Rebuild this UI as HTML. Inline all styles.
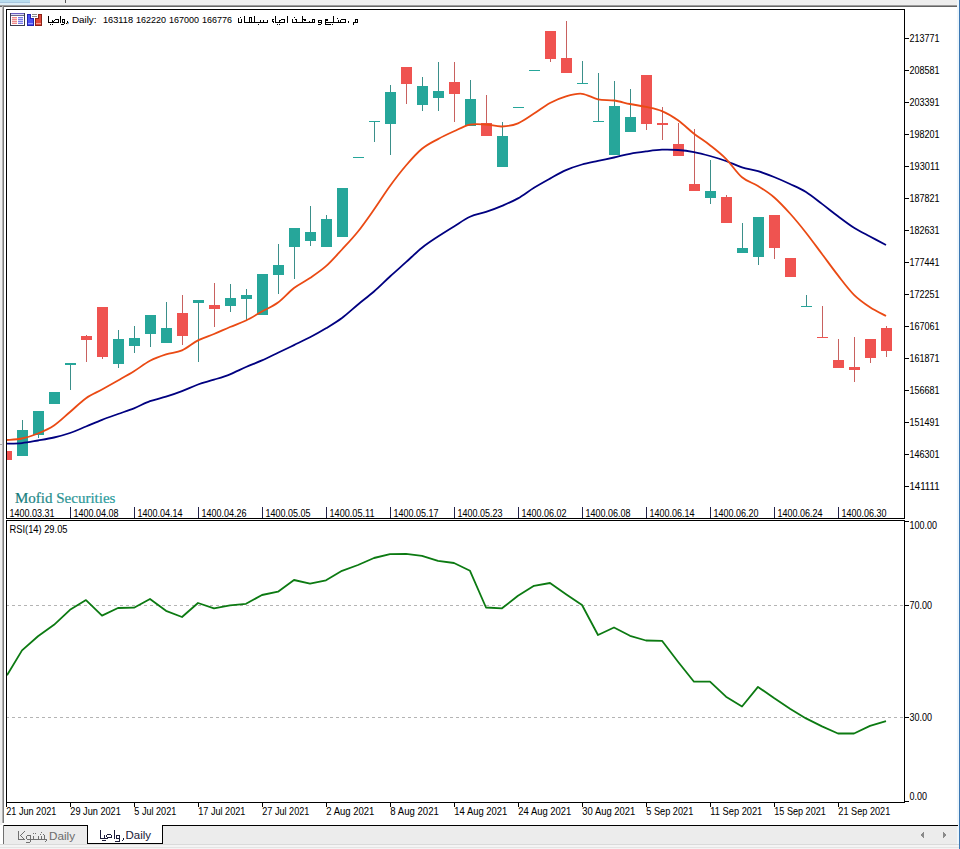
<!DOCTYPE html>
<html><head><meta charset="utf-8"><style>
html,body{margin:0;padding:0;}
body{width:960px;height:849px;overflow:hidden;position:relative;background:#fff;font-family:"Liberation Sans",sans-serif;}
.abs{position:absolute;}
</style></head><body>
<div class="abs" style="left:0;top:0;width:960px;height:5px;background:#eeeeee"></div>
<div class="abs" style="left:0;top:0;width:30px;height:2px;background:#b8dcee"></div>
<div class="abs" style="left:0;top:2px;width:30px;height:1px;background:#a6c6de"></div>
<div class="abs" style="left:0;top:3px;width:30px;height:2px;background:#dcedf6"></div>
<div class="abs" style="left:65px;top:0;width:1px;height:3px;background:#555"></div>
<div class="abs" style="left:0;top:5px;width:958px;height:1px;background:#9c9c9c"></div>
<div class="abs" style="left:0;top:6px;width:958px;height:1px;background:#646464"></div>
<div class="abs" style="left:0;top:7px;width:2px;height:818px;background:#f0f0f0"></div>
<div class="abs" style="left:2px;top:6px;width:1px;height:817px;background:#b4b4b4"></div>
<div class="abs" style="left:3px;top:6px;width:1px;height:817px;background:#7c7c7c"></div>
<div class="abs" style="left:957px;top:0;width:2px;height:849px;background:#eef6fb"></div>
<div class="abs" style="left:0;top:444px;width:2px;height:1px;background:#a8a8a8"></div>
<div class="abs" style="left:959px;top:0;width:1px;height:849px;background:#3c78b4"></div>
<svg class="abs" style="left:0;top:0" width="960" height="849" viewBox="0 0 960 849">
<rect x="6" y="9" width="899" height="794" fill="#fff"/>
<defs><clipPath id="cm"><rect x="7" y="10" width="897" height="508"/></clipPath><clipPath id="cr"><rect x="7" y="521" width="897" height="281"/></clipPath></defs>
<g clip-path="url(#cm)" shape-rendering="crispEdges">
<rect x="1" y="451" width="11" height="9" fill="#ef5350"/>
<rect x="22" y="420" width="1" height="10" fill="#3b8f8a"/><rect x="17" y="430" width="11" height="26" fill="#26a69a"/>
<rect x="38" y="435" width="1" height="3" fill="#3b8f8a"/><rect x="33" y="411" width="11" height="24" fill="#26a69a"/>
<rect x="49" y="392" width="11" height="12" fill="#26a69a"/>
<rect x="70" y="365" width="1" height="25" fill="#3b8f8a"/><rect x="65" y="363" width="11" height="2" fill="#26a69a"/>
<rect x="86" y="335" width="1" height="1" fill="#c8615f"/><rect x="86" y="340" width="1" height="22" fill="#c8615f"/><rect x="81" y="336" width="11" height="4" fill="#ef5350"/>
<rect x="102" y="357" width="1" height="2" fill="#c8615f"/><rect x="97" y="307" width="11" height="50" fill="#ef5350"/>
<rect x="118" y="330" width="1" height="9" fill="#3b8f8a"/><rect x="118" y="364" width="1" height="4" fill="#3b8f8a"/><rect x="113" y="339" width="11" height="25" fill="#26a69a"/>
<rect x="134" y="326" width="1" height="12" fill="#3b8f8a"/><rect x="134" y="346" width="1" height="7" fill="#3b8f8a"/><rect x="129" y="338" width="11" height="8" fill="#26a69a"/>
<rect x="150" y="334" width="1" height="13" fill="#3b8f8a"/><rect x="145" y="315" width="11" height="19" fill="#26a69a"/>
<rect x="166" y="302" width="1" height="26" fill="#3b8f8a"/><rect x="161" y="328" width="11" height="15" fill="#26a69a"/>
<rect x="182" y="295" width="1" height="18" fill="#c8615f"/><rect x="182" y="336" width="1" height="9" fill="#c8615f"/><rect x="177" y="313" width="11" height="23" fill="#ef5350"/>
<rect x="198" y="303" width="1" height="59" fill="#3b8f8a"/><rect x="193" y="300" width="11" height="3" fill="#26a69a"/>
<rect x="214" y="283" width="1" height="22" fill="#c8615f"/><rect x="214" y="309" width="1" height="18" fill="#c8615f"/><rect x="209" y="305" width="11" height="4" fill="#ef5350"/>
<rect x="230" y="284" width="1" height="14" fill="#3b8f8a"/><rect x="230" y="306" width="1" height="6" fill="#3b8f8a"/><rect x="225" y="298" width="11" height="8" fill="#26a69a"/>
<rect x="246" y="289" width="1" height="6" fill="#3b8f8a"/><rect x="246" y="299" width="1" height="21" fill="#3b8f8a"/><rect x="241" y="295" width="11" height="4" fill="#26a69a"/>
<rect x="257" y="274" width="11" height="41" fill="#26a69a"/>
<rect x="278" y="244" width="1" height="21" fill="#3b8f8a"/><rect x="278" y="275" width="1" height="19" fill="#3b8f8a"/><rect x="273" y="265" width="11" height="10" fill="#26a69a"/>
<rect x="294" y="247" width="1" height="32" fill="#3b8f8a"/><rect x="289" y="228" width="11" height="19" fill="#26a69a"/>
<rect x="310" y="206" width="1" height="26" fill="#3b8f8a"/><rect x="310" y="241" width="1" height="5" fill="#3b8f8a"/><rect x="305" y="232" width="11" height="9" fill="#26a69a"/>
<rect x="326" y="215" width="1" height="4" fill="#3b8f8a"/><rect x="321" y="219" width="11" height="28" fill="#26a69a"/>
<rect x="337" y="188" width="11" height="49" fill="#26a69a"/>
<rect x="353" y="157" width="11" height="1" fill="#26a69a"/>
<rect x="374" y="122" width="1" height="20" fill="#3b8f8a"/><rect x="369" y="121" width="11" height="1" fill="#26a69a"/>
<rect x="390" y="85" width="1" height="7" fill="#3b8f8a"/><rect x="390" y="124" width="1" height="31" fill="#3b8f8a"/><rect x="385" y="92" width="11" height="32" fill="#26a69a"/>
<rect x="406" y="84" width="1" height="20" fill="#c8615f"/><rect x="401" y="67" width="11" height="17" fill="#ef5350"/>
<rect x="422" y="77" width="1" height="9" fill="#3b8f8a"/><rect x="422" y="105" width="1" height="6" fill="#3b8f8a"/><rect x="417" y="86" width="11" height="19" fill="#26a69a"/>
<rect x="438" y="62" width="1" height="29" fill="#3b8f8a"/><rect x="438" y="98" width="1" height="13" fill="#3b8f8a"/><rect x="433" y="91" width="11" height="7" fill="#26a69a"/>
<rect x="454" y="62" width="1" height="20" fill="#c8615f"/><rect x="454" y="94" width="1" height="28" fill="#c8615f"/><rect x="449" y="82" width="11" height="12" fill="#ef5350"/>
<rect x="470" y="80" width="1" height="19" fill="#3b8f8a"/><rect x="465" y="99" width="11" height="27" fill="#26a69a"/>
<rect x="486" y="95" width="1" height="28" fill="#c8615f"/><rect x="481" y="123" width="11" height="13" fill="#ef5350"/>
<rect x="502" y="122" width="1" height="14" fill="#3b8f8a"/><rect x="497" y="136" width="11" height="31" fill="#26a69a"/>
<rect x="513" y="107" width="11" height="1" fill="#26a69a"/>
<rect x="529" y="70" width="11" height="1" fill="#26a69a"/>
<rect x="550" y="59" width="1" height="3" fill="#c8615f"/><rect x="545" y="31" width="11" height="28" fill="#ef5350"/>
<rect x="566" y="21" width="1" height="37" fill="#c8615f"/><rect x="561" y="58" width="11" height="15" fill="#ef5350"/>
<rect x="582" y="61" width="1" height="22" fill="#3b8f8a"/><rect x="577" y="83" width="11" height="1" fill="#26a69a"/>
<rect x="598" y="73" width="1" height="48" fill="#3b8f8a"/><rect x="593" y="121" width="11" height="1" fill="#26a69a"/>
<rect x="614" y="81" width="1" height="25" fill="#3b8f8a"/><rect x="609" y="106" width="11" height="49" fill="#26a69a"/>
<rect x="630" y="89" width="1" height="28" fill="#3b8f8a"/><rect x="625" y="117" width="11" height="15" fill="#26a69a"/>
<rect x="646" y="124" width="1" height="6" fill="#c8615f"/><rect x="641" y="75" width="11" height="49" fill="#ef5350"/>
<rect x="662" y="107" width="1" height="16" fill="#c8615f"/><rect x="662" y="125" width="1" height="15" fill="#c8615f"/><rect x="657" y="123" width="11" height="2" fill="#ef5350"/>
<rect x="678" y="123" width="1" height="21" fill="#c8615f"/><rect x="673" y="144" width="11" height="12" fill="#ef5350"/>
<rect x="694" y="129" width="1" height="55" fill="#c8615f"/><rect x="689" y="184" width="11" height="7" fill="#ef5350"/>
<rect x="710" y="160" width="1" height="31" fill="#3b8f8a"/><rect x="710" y="198" width="1" height="6" fill="#3b8f8a"/><rect x="705" y="191" width="11" height="7" fill="#26a69a"/>
<rect x="726" y="195" width="1" height="2" fill="#c8615f"/><rect x="721" y="197" width="11" height="26" fill="#ef5350"/>
<rect x="742" y="223" width="1" height="25" fill="#3b8f8a"/><rect x="737" y="248" width="11" height="5" fill="#26a69a"/>
<rect x="758" y="257" width="1" height="8" fill="#3b8f8a"/><rect x="753" y="217" width="11" height="40" fill="#26a69a"/>
<rect x="774" y="248" width="1" height="11" fill="#c8615f"/><rect x="769" y="215" width="11" height="33" fill="#ef5350"/>
<rect x="785" y="258" width="11" height="19" fill="#ef5350"/>
<rect x="806" y="295" width="1" height="11" fill="#3b8f8a"/><rect x="801" y="306" width="11" height="1" fill="#26a69a"/>
<rect x="822" y="306" width="1" height="31" fill="#c8615f"/><rect x="817" y="337" width="11" height="1" fill="#ef5350"/>
<rect x="838" y="339" width="1" height="21" fill="#c8615f"/><rect x="833" y="360" width="11" height="8" fill="#ef5350"/>
<rect x="854" y="337" width="1" height="30" fill="#c8615f"/><rect x="854" y="370" width="1" height="12" fill="#c8615f"/><rect x="849" y="367" width="11" height="3" fill="#ef5350"/>
<rect x="870" y="358" width="1" height="5" fill="#c8615f"/><rect x="865" y="339" width="11" height="19" fill="#ef5350"/>
<rect x="886" y="326" width="1" height="2" fill="#c8615f"/><rect x="886" y="351" width="1" height="6" fill="#c8615f"/><rect x="881" y="328" width="11" height="23" fill="#ef5350"/>
</g>
<g clip-path="url(#cm)" fill="none" stroke-width="1.8" stroke-linejoin="round">
<path d="M7,443.60 C9.50,443.52 16.83,443.62 22,443.10 C27.17,442.58 32.67,441.43 38,440.50 C43.33,439.57 48.67,438.75 54,437.50 C59.33,436.25 64.67,434.83 70,433.00 C75.33,431.17 80.67,428.70 86,426.50 C91.33,424.30 96.67,421.88 102,419.80 C107.33,417.72 112.67,415.92 118,414.00 C123.33,412.08 128.67,410.43 134,408.30 C139.33,406.17 144.67,403.13 150,401.20 C155.33,399.27 160.67,398.38 166,396.70 C171.33,395.02 176.67,393.13 182,391.10 C187.33,389.07 192.67,386.40 198,384.50 C203.33,382.60 208.67,381.40 214,379.70 C219.33,378.00 224.67,376.42 230,374.30 C235.33,372.18 240.67,369.32 246,367.00 C251.33,364.68 256.67,362.77 262,360.40 C267.33,358.03 272.67,355.35 278,352.80 C283.33,350.25 288.67,347.68 294,345.10 C299.33,342.52 304.67,340.10 310,337.30 C315.33,334.50 320.67,331.52 326,328.30 C331.33,325.08 336.67,321.97 342,318.00 C347.33,314.03 352.67,308.92 358,304.50 C363.33,300.08 368.67,296.17 374,291.50 C379.33,286.83 384.67,281.38 390,276.50 C395.33,271.62 400.67,267.00 406,262.20 C411.33,257.40 416.67,251.98 422,247.70 C427.33,243.42 432.67,240.05 438,236.50 C443.33,232.95 448.67,229.68 454,226.40 C459.33,223.12 464.67,219.22 470,216.80 C475.33,214.38 480.67,213.73 486,211.90 C491.33,210.07 496.67,208.05 502,205.80 C507.33,203.55 512.67,201.40 518,198.40 C523.33,195.40 528.67,191.10 534,187.80 C539.33,184.50 544.67,181.55 550,178.60 C555.33,175.65 560.67,172.45 566,170.10 C571.33,167.75 576.67,166.03 582,164.50 C587.33,162.97 592.67,162.07 598,160.90 C603.33,159.73 608.67,158.68 614,157.50 C619.33,156.32 624.67,154.82 630,153.80 C635.33,152.78 640.67,152.08 646,151.40 C651.33,150.72 656.67,149.93 662,149.70 C667.33,149.47 672.67,149.60 678,150.00 C683.33,150.40 688.67,151.10 694,152.10 C699.33,153.10 704.67,154.52 710,156.00 C715.33,157.48 720.67,159.10 726,161.00 C731.33,162.90 736.67,165.70 742,167.40 C747.33,169.10 752.67,169.60 758,171.20 C763.33,172.80 768.67,174.87 774,177.00 C779.33,179.13 784.67,181.50 790,184.00 C795.33,186.50 800.67,188.68 806,192.00 C811.33,195.32 816.67,199.87 822,203.90 C827.33,207.93 832.67,212.23 838,216.20 C843.33,220.17 848.67,224.32 854,227.70 C859.33,231.08 864.67,233.62 870,236.50 C875.33,239.38 883.33,243.58 886,245.00" stroke="#000080"/>
<path d="M7,440.00 C9.50,439.75 16.83,439.58 22,438.50 C27.17,437.42 32.67,435.67 38,433.50 C43.33,431.33 48.67,429.08 54,425.50 C59.33,421.92 64.67,416.55 70,412.00 C75.33,407.45 80.67,401.95 86,398.20 C91.33,394.45 96.67,392.45 102,389.50 C107.33,386.55 112.67,383.55 118,380.50 C123.33,377.45 128.67,374.48 134,371.20 C139.33,367.92 144.67,363.60 150,360.80 C155.33,358.00 160.67,356.13 166,354.40 C171.33,352.67 176.67,352.73 182,350.40 C187.33,348.07 192.67,343.13 198,340.40 C203.33,337.67 208.67,336.23 214,334.00 C219.33,331.77 224.67,329.25 230,327.00 C235.33,324.75 240.67,323.08 246,320.50 C251.33,317.92 256.67,314.50 262,311.50 C267.33,308.50 272.67,306.42 278,302.50 C283.33,298.58 288.67,292.08 294,288.00 C299.33,283.92 304.67,281.63 310,278.00 C315.33,274.37 320.67,270.95 326,266.20 C331.33,261.45 336.67,255.28 342,249.50 C347.33,243.72 352.67,238.17 358,231.50 C363.33,224.83 368.67,217.08 374,209.50 C379.33,201.92 384.67,193.33 390,186.00 C395.33,178.67 400.67,171.70 406,165.50 C411.33,159.30 416.67,153.20 422,148.80 C427.33,144.40 432.67,142.02 438,139.10 C443.33,136.18 448.67,133.72 454,131.30 C459.33,128.88 464.67,125.73 470,124.60 C475.33,123.47 480.67,124.18 486,124.50 C491.33,124.82 496.67,126.70 502,126.50 C507.33,126.30 512.67,125.45 518,123.30 C523.33,121.15 528.67,116.98 534,113.60 C539.33,110.22 544.67,105.88 550,103.00 C555.33,100.12 560.67,97.83 566,96.30 C571.33,94.77 576.67,93.30 582,93.80 C587.33,94.30 592.67,98.18 598,99.30 C603.33,100.42 608.67,99.72 614,100.50 C619.33,101.28 624.67,102.93 630,104.00 C635.33,105.07 640.67,105.72 646,106.90 C651.33,108.08 656.67,108.87 662,111.10 C667.33,113.33 672.67,116.53 678,120.30 C683.33,124.07 688.67,129.55 694,133.70 C699.33,137.85 704.67,141.02 710,145.20 C715.33,149.38 720.67,153.45 726,158.80 C731.33,164.15 736.67,172.77 742,177.30 C747.33,181.83 752.67,182.68 758,186.00 C763.33,189.32 768.67,192.62 774,197.20 C779.33,201.78 784.67,207.58 790,213.50 C795.33,219.42 800.67,225.95 806,232.70 C811.33,239.45 816.67,246.88 822,254.00 C827.33,261.12 832.67,268.60 838,275.40 C843.33,282.20 848.67,289.50 854,294.80 C859.33,300.10 864.67,303.67 870,307.20 C875.33,310.73 883.33,314.53 886,316.00" stroke="#ea4a14"/>
</g>
<g shape-rendering="crispEdges" fill="#000">
<rect x="6" y="9" width="899" height="1"/>
<rect x="6" y="9" width="1" height="510"/>
<rect x="904" y="9" width="1" height="510"/>
<rect x="6" y="518" width="899" height="1"/>
<rect x="6" y="520" width="899" height="1"/>
<rect x="6" y="520" width="1" height="283"/>
<rect x="904" y="520" width="1" height="283"/>
<rect x="6" y="802" width="899" height="1"/>
<rect x="905" y="38" width="4" height="1"/>
<rect x="905" y="70" width="4" height="1"/>
<rect x="905" y="102" width="4" height="1"/>
<rect x="905" y="134" width="4" height="1"/>
<rect x="905" y="166" width="4" height="1"/>
<rect x="905" y="198" width="4" height="1"/>
<rect x="905" y="230" width="4" height="1"/>
<rect x="905" y="262" width="4" height="1"/>
<rect x="905" y="294" width="4" height="1"/>
<rect x="905" y="326" width="4" height="1"/>
<rect x="905" y="358" width="4" height="1"/>
<rect x="905" y="390" width="4" height="1"/>
<rect x="905" y="422" width="4" height="1"/>
<rect x="905" y="454" width="4" height="1"/>
<rect x="905" y="486" width="4" height="1"/>
<rect x="905" y="521" width="4" height="1"/>
<rect x="905" y="605" width="4" height="1"/>
<rect x="905" y="717" width="4" height="1"/>
<rect x="905" y="801" width="4" height="1"/>
<rect x="6" y="803" width="1" height="4"/>
<rect x="70" y="803" width="1" height="4"/>
<rect x="134" y="803" width="1" height="4"/>
<rect x="198" y="803" width="1" height="4"/>
<rect x="262" y="803" width="1" height="4"/>
<rect x="326" y="803" width="1" height="4"/>
<rect x="390" y="803" width="1" height="4"/>
<rect x="454" y="803" width="1" height="4"/>
<rect x="518" y="803" width="1" height="4"/>
<rect x="582" y="803" width="1" height="4"/>
<rect x="646" y="803" width="1" height="4"/>
<rect x="710" y="803" width="1" height="4"/>
<rect x="774" y="803" width="1" height="4"/>
<rect x="838" y="803" width="1" height="4"/>
<rect x="70" y="507" width="1" height="11" fill="#23234a"/>
<rect x="134" y="507" width="1" height="11" fill="#23234a"/>
<rect x="198" y="507" width="1" height="11" fill="#23234a"/>
<rect x="262" y="507" width="1" height="11" fill="#23234a"/>
<rect x="326" y="507" width="1" height="11" fill="#23234a"/>
<rect x="390" y="507" width="1" height="11" fill="#23234a"/>
<rect x="454" y="507" width="1" height="11" fill="#23234a"/>
<rect x="518" y="507" width="1" height="11" fill="#23234a"/>
<rect x="582" y="507" width="1" height="11" fill="#23234a"/>
<rect x="646" y="507" width="1" height="11" fill="#23234a"/>
<rect x="710" y="507" width="1" height="11" fill="#23234a"/>
<rect x="774" y="507" width="1" height="11" fill="#23234a"/>
<rect x="838" y="507" width="1" height="11" fill="#23234a"/>
</g>
<g clip-path="url(#cr)" shape-rendering="crispEdges" stroke="#b4b4b4" stroke-width="1" stroke-dasharray="3,3">
<line x1="6" y1="605.5" x2="904" y2="605.5"/>
<line x1="6" y1="717.5" x2="904" y2="717.5"/>
</g>
<g clip-path="url(#cr)" fill="none" stroke-width="1.8" stroke-linejoin="round">
<polyline points="7,675.2 22,650.4 38,636.3 54,624.8 70,609.8 86,600.1 102,615.6 118,608.0 134,607.7 150,599.0 166,610.8 182,617.0 198,603.0 214,608.3 230,605.3 246,603.8 262,595.0 278,591.7 294,580.0 310,583.7 326,580.3 342,570.8 358,565.0 374,558.0 390,554.2 406,553.8 422,555.8 438,560.8 454,563.0 470,570.8 486,607.5 502,608.3 518,595.8 534,585.8 550,583.0 566,594.2 582,605.0 598,635.0 614,627.5 630,635.8 646,640.5 662,640.8 678,661.7 694,681.7 710,681.7 726,696.7 742,706.5 758,686.9 774,698.1 790,708.7 806,718.4 822,726.4 838,733.5 854,733.5 870,725.9 886,721.1" stroke="#0c7a12"/>
</g>
<g font-family="Liberation Sans, sans-serif">
<text x="909.5" y="42" font-size="10" fill="#000" stroke="#000" stroke-width="0.05" textLength="30" lengthAdjust="spacingAndGlyphs">213771</text>
<text x="909.5" y="74" font-size="10" fill="#000" stroke="#000" stroke-width="0.05" textLength="30" lengthAdjust="spacingAndGlyphs">208581</text>
<text x="909.5" y="106" font-size="10" fill="#000" stroke="#000" stroke-width="0.05" textLength="30" lengthAdjust="spacingAndGlyphs">203391</text>
<text x="909.5" y="138" font-size="10" fill="#000" stroke="#000" stroke-width="0.05" textLength="30" lengthAdjust="spacingAndGlyphs">198201</text>
<text x="909.5" y="170" font-size="10" fill="#000" stroke="#000" stroke-width="0.05" textLength="30" lengthAdjust="spacingAndGlyphs">193011</text>
<text x="909.5" y="202" font-size="10" fill="#000" stroke="#000" stroke-width="0.05" textLength="30" lengthAdjust="spacingAndGlyphs">187821</text>
<text x="909.5" y="234" font-size="10" fill="#000" stroke="#000" stroke-width="0.05" textLength="30" lengthAdjust="spacingAndGlyphs">182631</text>
<text x="909.5" y="266" font-size="10" fill="#000" stroke="#000" stroke-width="0.05" textLength="30" lengthAdjust="spacingAndGlyphs">177441</text>
<text x="909.5" y="298" font-size="10" fill="#000" stroke="#000" stroke-width="0.05" textLength="30" lengthAdjust="spacingAndGlyphs">172251</text>
<text x="909.5" y="330" font-size="10" fill="#000" stroke="#000" stroke-width="0.05" textLength="30" lengthAdjust="spacingAndGlyphs">167061</text>
<text x="909.5" y="362" font-size="10" fill="#000" stroke="#000" stroke-width="0.05" textLength="30" lengthAdjust="spacingAndGlyphs">161871</text>
<text x="909.5" y="394" font-size="10" fill="#000" stroke="#000" stroke-width="0.05" textLength="30" lengthAdjust="spacingAndGlyphs">156681</text>
<text x="909.5" y="426" font-size="10" fill="#000" stroke="#000" stroke-width="0.05" textLength="30" lengthAdjust="spacingAndGlyphs">151491</text>
<text x="909.5" y="458" font-size="10" fill="#000" stroke="#000" stroke-width="0.05" textLength="30" lengthAdjust="spacingAndGlyphs">146301</text>
<text x="909.5" y="490" font-size="10" fill="#000" stroke="#000" stroke-width="0.05" textLength="30" lengthAdjust="spacingAndGlyphs">141111</text>
<text x="909.5" y="529" font-size="10" fill="#000" stroke="#000" stroke-width="0.05" textLength="27.5" lengthAdjust="spacingAndGlyphs">100.00</text>
<text x="909.5" y="609" font-size="10" fill="#000" stroke="#000" stroke-width="0.05" textLength="22.5" lengthAdjust="spacingAndGlyphs">70.00</text>
<text x="909.5" y="721" font-size="10" fill="#000" stroke="#000" stroke-width="0.05" textLength="22.5" lengthAdjust="spacingAndGlyphs">30.00</text>
<text x="909.5" y="800" font-size="10" fill="#000" stroke="#000" stroke-width="0.05" textLength="17.5" lengthAdjust="spacingAndGlyphs">0.00</text>
<text x="9.5" y="517" font-size="10" fill="#000" stroke="#000" stroke-width="0.05" textLength="45" lengthAdjust="spacingAndGlyphs">1400.03.31</text>
<text x="73.5" y="517" font-size="10" fill="#000" stroke="#000" stroke-width="0.05" textLength="45" lengthAdjust="spacingAndGlyphs">1400.04.08</text>
<text x="137.5" y="517" font-size="10" fill="#000" stroke="#000" stroke-width="0.05" textLength="45" lengthAdjust="spacingAndGlyphs">1400.04.14</text>
<text x="201.5" y="517" font-size="10" fill="#000" stroke="#000" stroke-width="0.05" textLength="45" lengthAdjust="spacingAndGlyphs">1400.04.26</text>
<text x="265.5" y="517" font-size="10" fill="#000" stroke="#000" stroke-width="0.05" textLength="45" lengthAdjust="spacingAndGlyphs">1400.05.05</text>
<text x="329.5" y="517" font-size="10" fill="#000" stroke="#000" stroke-width="0.05" textLength="45" lengthAdjust="spacingAndGlyphs">1400.05.11</text>
<text x="393.5" y="517" font-size="10" fill="#000" stroke="#000" stroke-width="0.05" textLength="45" lengthAdjust="spacingAndGlyphs">1400.05.17</text>
<text x="457.5" y="517" font-size="10" fill="#000" stroke="#000" stroke-width="0.05" textLength="45" lengthAdjust="spacingAndGlyphs">1400.05.23</text>
<text x="521.5" y="517" font-size="10" fill="#000" stroke="#000" stroke-width="0.05" textLength="45" lengthAdjust="spacingAndGlyphs">1400.06.02</text>
<text x="585.5" y="517" font-size="10" fill="#000" stroke="#000" stroke-width="0.05" textLength="45" lengthAdjust="spacingAndGlyphs">1400.06.08</text>
<text x="649.5" y="517" font-size="10" fill="#000" stroke="#000" stroke-width="0.05" textLength="45" lengthAdjust="spacingAndGlyphs">1400.06.14</text>
<text x="713.5" y="517" font-size="10" fill="#000" stroke="#000" stroke-width="0.05" textLength="45" lengthAdjust="spacingAndGlyphs">1400.06.20</text>
<text x="777.5" y="517" font-size="10" fill="#000" stroke="#000" stroke-width="0.05" textLength="45" lengthAdjust="spacingAndGlyphs">1400.06.24</text>
<text x="841.5" y="517" font-size="10" fill="#000" stroke="#000" stroke-width="0.05" textLength="45" lengthAdjust="spacingAndGlyphs">1400.06.30</text>
<text x="6.3" y="815" font-size="10.4" fill="#000" stroke="#000" stroke-width="0.05" textLength="50" lengthAdjust="spacingAndGlyphs">21 Jun 2021</text>
<text x="70.3" y="815" font-size="10.4" fill="#000" stroke="#000" stroke-width="0.05" textLength="50.5" lengthAdjust="spacingAndGlyphs">29 Jun 2021</text>
<text x="134.3" y="815" font-size="10.4" fill="#000" stroke="#000" stroke-width="0.05" textLength="42" lengthAdjust="spacingAndGlyphs">5 Jul 2021</text>
<text x="198.3" y="815" font-size="10.4" fill="#000" stroke="#000" stroke-width="0.05" textLength="47" lengthAdjust="spacingAndGlyphs">17 Jul 2021</text>
<text x="262.3" y="815" font-size="10.4" fill="#000" stroke="#000" stroke-width="0.05" textLength="47" lengthAdjust="spacingAndGlyphs">27 Jul 2021</text>
<text x="326.3" y="815" font-size="10.4" fill="#000" stroke="#000" stroke-width="0.05" textLength="48" lengthAdjust="spacingAndGlyphs">2 Aug 2021</text>
<text x="390.3" y="815" font-size="10.4" fill="#000" stroke="#000" stroke-width="0.05" textLength="48.5" lengthAdjust="spacingAndGlyphs">8 Aug 2021</text>
<text x="454.3" y="815" font-size="10.4" fill="#000" stroke="#000" stroke-width="0.05" textLength="53" lengthAdjust="spacingAndGlyphs">14 Aug 2021</text>
<text x="518.3" y="815" font-size="10.4" fill="#000" stroke="#000" stroke-width="0.05" textLength="53" lengthAdjust="spacingAndGlyphs">24 Aug 2021</text>
<text x="582.3" y="815" font-size="10.4" fill="#000" stroke="#000" stroke-width="0.05" textLength="53" lengthAdjust="spacingAndGlyphs">30 Aug 2021</text>
<text x="646.3" y="815" font-size="10.4" fill="#000" stroke="#000" stroke-width="0.05" textLength="47" lengthAdjust="spacingAndGlyphs">5 Sep 2021</text>
<text x="710.3" y="815" font-size="10.4" fill="#000" stroke="#000" stroke-width="0.05" textLength="52" lengthAdjust="spacingAndGlyphs">11 Sep 2021</text>
<text x="774.3" y="815" font-size="10.4" fill="#000" stroke="#000" stroke-width="0.05" textLength="51.5" lengthAdjust="spacingAndGlyphs">15 Sep 2021</text>
<text x="838.3" y="815" font-size="10.4" fill="#000" stroke="#000" stroke-width="0.05" textLength="52" lengthAdjust="spacingAndGlyphs">21 Sep 2021</text>
<text x="9.5" y="533" font-size="10" fill="#000" stroke="#000" stroke-width="0.05" textLength="58" lengthAdjust="spacingAndGlyphs">RSI(14) 29.05</text>
</g>
<defs><linearGradient id="mg" x1="15" y1="0" x2="114" y2="0" gradientUnits="userSpaceOnUse"><stop offset="0" stop-color="#157878"/><stop offset="0.5" stop-color="#2a9494"/><stop offset="1" stop-color="#2a9c9c"/></linearGradient></defs>
<text x="15" y="503" font-family="Liberation Serif, serif" font-size="15" fill="url(#mg)" stroke="url(#mg)" stroke-width="0.2">Mofid Securities</text>
<g font-family="Liberation Sans, sans-serif">
<text x="66.5" y="23" font-size="9.8" fill="#000" stroke="#000" stroke-width="0.05" textLength="30" lengthAdjust="spacingAndGlyphs">, Daily:</text>
<text x="103" y="23" font-size="9.6" fill="#000" stroke="#000" stroke-width="0.05" textLength="30" lengthAdjust="spacingAndGlyphs">163118</text>
<text x="136" y="23" font-size="9.6" fill="#000" stroke="#000" stroke-width="0.05" textLength="30" lengthAdjust="spacingAndGlyphs">162220</text>
<text x="169" y="23" font-size="9.6" fill="#000" stroke="#000" stroke-width="0.05" textLength="30" lengthAdjust="spacingAndGlyphs">167000</text>
<text x="202" y="23" font-size="9.6" fill="#000" stroke="#000" stroke-width="0.05" textLength="30" lengthAdjust="spacingAndGlyphs">166776</text>
</g>

<g shape-rendering="crispEdges">
<rect x="10" y="13" width="15" height="13" fill="#3c3c50"/>
<rect x="11" y="13" width="13" height="1" fill="#6a5cc0"/>
<rect x="11" y="14" width="13" height="1" fill="#d8d8f4"/>
<rect x="11" y="15" width="13" height="1" fill="#6a6a8a"/>
<rect x="11" y="16" width="13" height="9" fill="#ffffff"/>
<rect x="12" y="17" width="5" height="1" fill="#ee8a8a"/>
<rect x="12" y="19" width="5" height="1" fill="#ee8a8a"/>
<rect x="12" y="21" width="5" height="1" fill="#ee8a8a"/>
<rect x="12" y="23" width="5" height="1" fill="#ee8a8a"/>
<rect x="12" y="18" width="5" height="1" fill="#f8d0d0"/>
<rect x="12" y="20" width="5" height="1" fill="#f8d0d0"/>
<rect x="12" y="22" width="5" height="1" fill="#f8d0d0"/>
<rect x="18" y="17" width="5" height="1" fill="#7a7ae8"/>
<rect x="18" y="19" width="5" height="1" fill="#7a7ae8"/>
<rect x="18" y="21" width="5" height="1" fill="#7a7ae8"/>
<rect x="18" y="23" width="5" height="1" fill="#7a7ae8"/>
<rect x="18" y="18" width="5" height="1" fill="#d0d0f8"/>
<rect x="18" y="20" width="5" height="1" fill="#d0d0f8"/>
<rect x="18" y="22" width="5" height="1" fill="#d0d0f8"/>
<path d="M27,14h4v4h3v8h-7z" fill="#2424b0"/>
<path d="M28,15h2v4h3v6h-5z" fill="#4c50f0"/>
<rect x="28" y="23" width="5" height="1" fill="#9aa0ff"/>
<rect x="32" y="14" width="5" height="1" fill="#8c8c8c"/>
<rect x="32" y="16" width="5" height="1" fill="#8c8c8c"/>
<path d="M38,14h4v12h-7v-8h3z" fill="#8a2418"/>
<path d="M39,15h2v10h-5v-6h3z" fill="#e2483a"/>
<rect x="36" y="23" width="5" height="1" fill="#f4a090"/>
</g>

<g shape-rendering="crispEdges">
<rect x="3" y="825" width="954" height="19" fill="#ececec"/>
<rect x="3" y="825" width="955" height="1" fill="#000"/>
<rect x="3" y="825" width="1" height="19" fill="#707070"/>
<rect x="87" y="825" width="76" height="19" fill="#000"/>
<rect x="88" y="825" width="74" height="18" fill="#fff"/>
<rect x="0" y="844" width="959" height="5" fill="#f4f4f4"/>
<rect x="0" y="844" width="959" height="1" fill="#dadada"/>
<rect x="0" y="847" width="959" height="1" fill="#e4e4e4"/>
<path d="M924,831.5L920.5,835L924,838.5z" fill="#8a8a8a"/>
<path d="M943,831.5L946.5,835L943,838.5z" fill="#8a8a8a"/>
</g>
<g font-family="Liberation Sans, sans-serif">
<text x="49" y="840" font-size="11.5" fill="#6e6e6e" stroke="#6e6e6e" stroke-width="0.05" textLength="26" lengthAdjust="spacingAndGlyphs">Daily</text>
<text x="125.5" y="839" font-size="11.5" fill="#1c1c3a" stroke="#1c1c3a" stroke-width="0.05" textLength="25.5" lengthAdjust="spacingAndGlyphs">Daily</text>
</g>
<g shape-rendering="crispEdges" fill="#000"><rect x="48" y="16" width="1" height="7"/><rect x="48" y="22" width="11" height="1"/><rect x="52" y="20" width="1" height="2"/><rect x="50" y="24" width="1" height="1"/><rect x="52" y="24" width="1" height="1"/><rect x="55" y="19" width="4" height="1"/><rect x="54" y="20" width="1" height="1"/><rect x="53" y="21" width="1" height="1"/><rect x="58" y="20" width="1" height="2"/><rect x="60" y="16" width="1" height="7"/><rect x="62" y="19" width="2" height="1"/><rect x="64" y="19" width="1" height="5"/><rect x="62" y="20" width="1" height="2"/><rect x="62" y="22" width="2" height="1"/><rect x="61" y="24" width="3" height="1"/><rect x="67" y="21" width="1" height="2"/><rect x="66" y="23" width="1" height="1"/><rect x="238" y="18" width="1" height="5"/><rect x="238" y="22" width="4" height="1"/><rect x="241" y="19" width="1" height="3"/><rect x="240" y="17" width="1" height="1"/><rect x="244" y="16" width="1" height="7"/><rect x="244" y="22" width="24" height="1"/><rect x="249" y="17" width="3" height="1"/><rect x="249" y="18" width="1" height="4"/><rect x="251" y="18" width="1" height="4"/><rect x="254" y="16" width="1" height="6"/><rect x="258" y="24" width="1" height="1"/><rect x="260" y="20" width="1" height="2"/><rect x="263" y="20" width="1" height="2"/><rect x="267" y="20" width="1" height="2"/><rect x="272" y="19" width="2" height="1"/><rect x="272" y="20" width="1" height="1"/><rect x="272" y="21" width="2" height="1"/><rect x="273" y="22" width="1" height="1"/><rect x="275" y="16" width="1" height="7"/><rect x="275" y="22" width="10" height="1"/><rect x="277" y="24" width="1" height="1"/><rect x="279" y="24" width="1" height="1"/><rect x="279" y="20" width="1" height="2"/><rect x="281" y="19" width="3" height="1"/><rect x="280" y="20" width="1" height="1"/><rect x="284" y="19" width="1" height="3"/><rect x="287" y="16" width="1" height="7"/><rect x="292" y="19" width="1" height="4"/><rect x="292" y="22" width="5" height="1"/><rect x="294" y="17" width="1" height="1"/><rect x="295" y="19" width="1" height="1"/><rect x="296" y="19" width="1" height="4"/><rect x="296" y="22" width="19" height="1"/><rect x="302" y="16" width="1" height="7"/><rect x="303" y="19" width="3" height="1"/><rect x="304" y="20" width="2" height="1"/><rect x="312" y="19" width="3" height="1"/><rect x="312" y="20" width="1" height="2"/><rect x="314" y="20" width="1" height="2"/><rect x="309" y="21" width="1" height="1"/><rect x="318" y="20" width="3" height="1"/><rect x="318" y="21" width="1" height="1"/><rect x="321" y="20" width="1" height="4"/><rect x="318" y="22" width="3" height="1"/><rect x="318" y="24" width="3" height="1"/><rect x="325" y="19" width="3" height="2"/><rect x="325" y="21" width="1" height="3"/><rect x="325" y="24" width="5" height="1"/><rect x="330" y="24" width="1" height="1"/><rect x="332" y="24" width="1" height="1"/><rect x="325" y="22" width="21" height="1"/><rect x="333" y="16" width="1" height="7"/><rect x="337" y="18" width="1" height="1"/><rect x="338" y="20" width="1" height="2"/><rect x="341" y="19" width="4" height="1"/><rect x="340" y="20" width="1" height="2"/><rect x="345" y="19" width="1" height="4"/><rect x="348" y="21" width="1" height="2"/><rect x="355" y="19" width="3" height="1"/><rect x="355" y="20" width="1" height="2"/><rect x="357" y="20" width="1" height="2"/><rect x="353" y="22" width="5" height="1"/><rect x="353" y="23" width="1" height="2"/></g>
<g shape-rendering="crispEdges" fill="#1c1c3a"><rect x="100" y="830" width="1" height="9"/><rect x="100" y="838" width="8" height="1"/><rect x="104" y="835" width="1" height="3"/><rect x="102" y="840" width="4" height="1"/><rect x="107" y="834" width="4" height="1"/><rect x="111" y="835" width="1" height="2"/><rect x="107" y="837" width="5" height="1"/><rect x="106" y="835" width="1" height="2"/><rect x="114" y="830" width="1" height="9"/><rect x="116" y="835" width="4" height="1"/><rect x="116" y="836" width="1" height="2"/><rect x="119" y="835" width="1" height="6"/><rect x="116" y="838" width="3" height="1"/><rect x="115" y="841" width="5" height="1"/><rect x="123" y="838" width="1" height="2"/><rect x="122" y="840" width="1" height="1"/></g>
<g shape-rendering="crispEdges" fill="#707070"><rect x="18" y="831" width="1" height="9"/><rect x="18" y="839" width="7" height="1"/><rect x="24" y="831" width="1" height="1"/><rect x="23" y="832" width="1" height="1"/><rect x="22" y="833" width="1" height="1"/><rect x="21" y="834" width="1" height="1"/><rect x="20" y="835" width="1" height="1"/><rect x="21" y="836" width="1" height="1"/><rect x="22" y="837" width="1" height="1"/><rect x="23" y="838" width="1" height="1"/><rect x="27" y="835" width="3" height="1"/><rect x="26" y="836" width="1" height="3"/><rect x="30" y="835" width="1" height="7"/><rect x="26" y="842" width="4" height="1"/><rect x="27" y="839" width="19" height="1"/><rect x="33" y="836" width="1" height="3"/><rect x="33" y="833" width="1" height="1"/><rect x="35" y="833" width="1" height="1"/><rect x="38" y="836" width="1" height="3"/><rect x="41" y="836" width="1" height="3"/><rect x="44" y="835" width="1" height="4"/><rect x="41" y="832" width="1" height="1"/><rect x="40" y="834" width="1" height="1"/><rect x="43" y="834" width="1" height="1"/><rect x="46" y="839" width="1" height="2"/><rect x="45" y="841" width="1" height="1"/></g>
</svg>
</body></html>
